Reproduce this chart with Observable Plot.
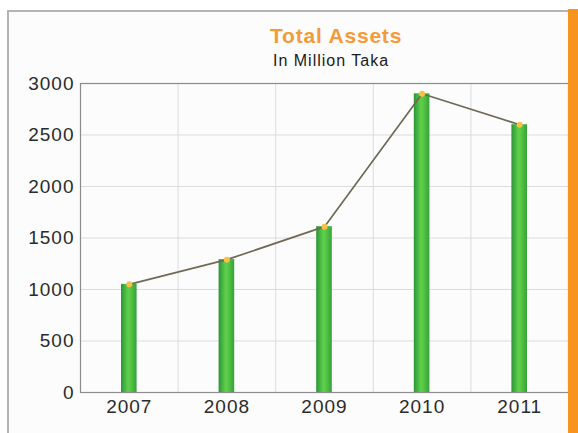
<!DOCTYPE html>
<html>
<head>
<meta charset="utf-8">
<script src="https://cdn.jsdelivr.net/npm/d3@7"></script>
<script src="https://cdn.jsdelivr.net/npm/@observablehq/plot@0.6"></script>
<style>
  html, body { margin: 0; padding: 0; background: #ffffff; }
  #wrap { position: relative; width: 578px; height: 433px; overflow: hidden; background: #ffffff; font-family: "Liberation Sans", Arial, sans-serif; }
  #panel { position: absolute; left: 7px; top: 10px; width: 561px; height: 423px; border-top: 2px solid #b4b4b4; border-left: 2px solid #b4b4b4; box-sizing: border-box; background: #fcfcfc; }
  #orange { position: absolute; left: 568px; top: 9px; width: 10px; height: 424px; background: #f7941e; }
  #chart { position: absolute; left: 0; top: 0; }
  #title { position: absolute; left: 270px; top: 25px; font-size: 21px; line-height: 21px; font-weight: bold; color: #f49a38; letter-spacing: 0.8px; white-space: nowrap; }
  #subtitle { position: absolute; left: 273px; top: 53px; font-size: 16px; line-height: 16px; color: #1a1a1a; letter-spacing: 1px; white-space: nowrap; }
</style>
</head>
<body>
<div id="wrap">
  <div id="panel"></div>
  <div id="chart"></div>
  <div id="orange"></div>
  <div id="title">Total Assets</div>
  <div id="subtitle">In Million Taka</div>
</div>
<script>
const years = [2007, 2008, 2009, 2010, 2011];
const assets = [1050, 1290, 1610, 2900, 2600];
const yTicks = [0, 500, 1000, 1500, 2000, 2500, 3000];

const data = years.map((year, i) => ({year, value: assets[i]}));
const boundaries = years.slice(1).map(y => y - 0.5);

const defs = () => {
  const d = d3.create("svg:defs");
  const g = d.append("linearGradient").attr("id", "barGrad")
    .attr("x1", "0").attr("x2", "1").attr("y1", "0").attr("y2", "0");
  g.append("stop").attr("offset", "0").attr("stop-color", "#2a9636");
  g.append("stop").attr("offset", "0.45").attr("stop-color", "#5fcf4c");
  g.append("stop").attr("offset", "0.6").attr("stop-color", "#58c846");
  g.append("stop").attr("offset", "1").attr("stop-color", "#34a23a");
  return d.node();
};

const chart = Plot.plot({
  width: 578,
  height: 433,
  marginLeft: 80,
  marginRight: 10,
  marginTop: 83,
  marginBottom: 41,
  style: {
    fontFamily: "'Liberation Sans', Arial, sans-serif",
    fontSize: "19px",
    color: "#2b2b2b",
    background: "transparent",
    letterSpacing: "1px",
    overflow: "visible"
  },
  x: {
    type: "linear",
    domain: [years[0] - 0.5, years[years.length - 1] + 0.5],
    ticks: years,
    tickFormat: d => String(d),
    tickSize: 0,
    tickPadding: 7,
    label: null
  },
  y: {
    domain: [0, 3000],
    ticks: yTicks,
    tickFormat: d => String(d),
    tickSize: 0,
    tickPadding: 6,
    label: null
  },
  marks: [
    defs,
    Plot.ruleY(yTicks.slice(1, -1), {stroke: "#dcdcdc", strokeWidth: 1}),
    Plot.ruleX(boundaries, {stroke: "#dcdcdc", strokeWidth: 1}),
    Plot.frame({stroke: "#8c8c8c", strokeWidth: 1.2}),
    Plot.rectY(data, {
      x1: d => d.year - 0.5,
      x2: d => d.year + 0.5,
      y: "value",
      fill: "url(#barGrad)",
      insetLeft: 41,
      insetRight: 41
    }),
    Plot.line(data, {x: "year", y: "value", stroke: "#6e6a55", strokeWidth: 1.7}),
    Plot.dot(data, {x: "year", y: "value", r: 3, fill: "#f7c04a", stroke: "none"})
  ]
});

document.getElementById("chart").appendChild(chart);
</script>
</body>
</html>
